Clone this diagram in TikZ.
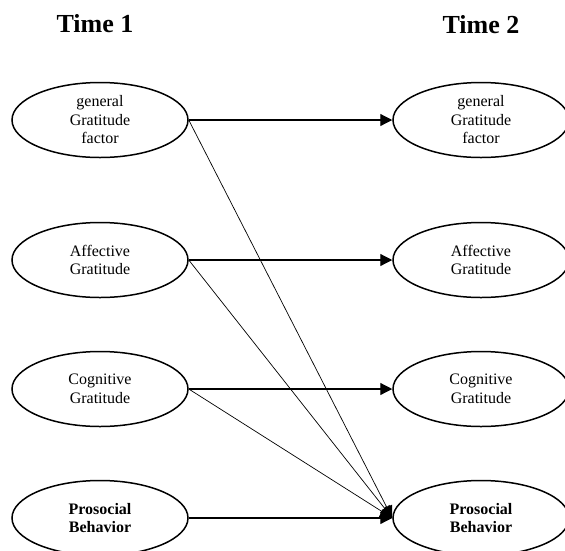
\documentclass[tikz,border=0pt]{standalone}
\usepackage{fontspec}
\setmainfont{Liberation Serif}
\usepackage{tikz}
\usetikzlibrary{shapes.geometric, arrows.meta, positioning}

\begin{document}
\begin{tikzpicture}[
        x=1pt, y=-1pt,
        latent/.style={ellipse, draw, line width=1.5pt, minimum width=176pt, minimum height=75pt,
            inner sep=0pt, align=center, font=\fontsize{16}{18.5}\selectfont},
        title/.style={font=\fontsize{26}{30}\selectfont\bfseries},
        path/.style={line width=1.2pt, -{Triangle[length=12pt,width=12pt]}},
        cross/.style={line width=0.7pt, -{Triangle[length=12pt,width=12pt]}}
    ]
        \clip (0,0) rectangle (565,550);
        % occasions
        \node[title] (t1) at (95,24) {Time 1};
        \node[title] (t2) at (481,25) {Time 2};
        % time 1
        \node[latent] (g1) at (100,120) {general\\Gratitude\\factor};
        \node[latent] (a1) at (100,260) {Affective\\Gratitude};
        \node[latent] (c1) at (100,389) {Cognitive\\Gratitude};
        \node[latent, font=\fontsize{16}{18.5}\selectfont\bfseries] (p1) at (100,518) {Prosocial\\Behavior};
        % time 2
        \node[latent] (g2) at (481,120) {general\\Gratitude\\factor};
        \node[latent] (a2) at (481,260) {Affective\\Gratitude};
        \node[latent] (c2) at (481,389) {Cognitive\\Gratitude};
        \node[latent, font=\fontsize{16}{18.5}\selectfont\bfseries] (p2) at (481,518) {Prosocial\\Behavior};
        % stability paths
        \draw[path] (g1.east) -- (g2.west);
        \draw[path] (a1.east) -- (a2.west);
        \draw[path] (c1.east) -- (c2.west);
        \draw[path] (p1.east) -- (p2.west);
        % cross-lagged paths
        \draw[cross] (g1.east) -- (p2.west);
        \draw[cross] (a1.east) -- (p2.west);
        \draw[cross] (c1.east) -- (p2.west);
    \end{tikzpicture}
\end{document}
